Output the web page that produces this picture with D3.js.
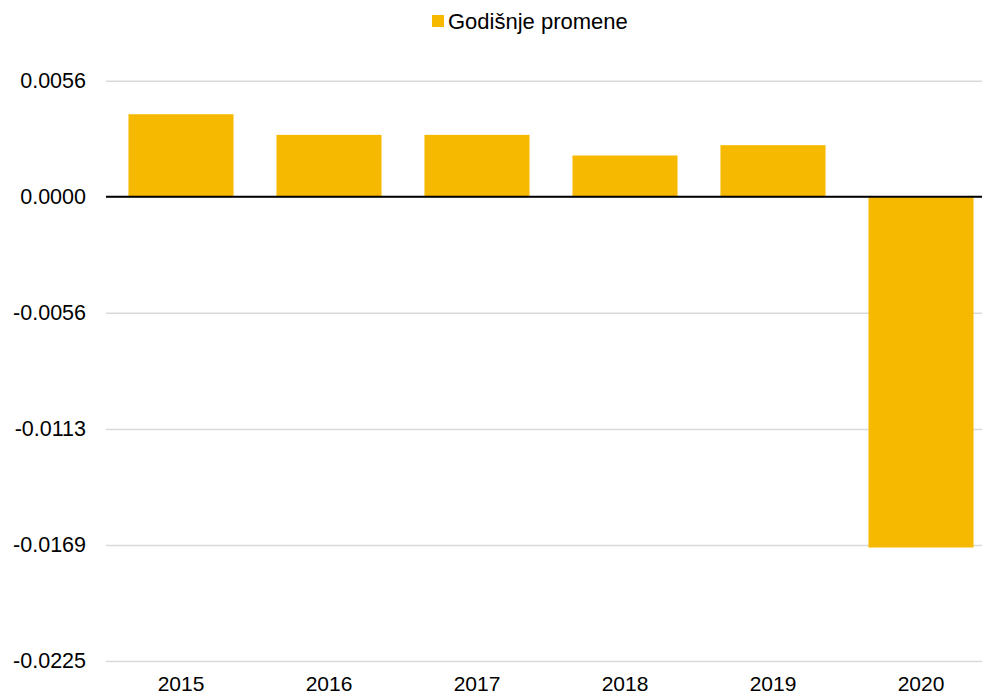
<!DOCTYPE html>
<meta charset="utf-8">
<script src="https://d3js.org/d3.v7.min.js"></script>
<style>
  body { margin: 0; font-family: "Liberation Sans", Arial, sans-serif; background: #fff; }
</style>
<div id="chart"></div>
<script>
// data
var years = ["2015", "2016", "2017", "2018", "2019", "2020"];
var changes = [0.0040, 0.0030, 0.0030, 0.0020, 0.0025, -0.0170];
var tickValues = [0.005625, 0, -0.005625, -0.01125, -0.016875, -0.0225];
var tickLabels = ["0.0056", "0.0000", "-0.0056", "-0.0113", "-0.0169", "-0.0225"];
var seriesName = "Godišnje promene";

var W = 982, H = 696;
var svg = d3.select("#chart").append("svg")
  .attr("width", W)
  .attr("height", H);

var x = d3.scaleBand()
  .domain(years)
  .range([107, 995])
  .paddingInner(0.29)
  .paddingOuter(0.145);

var y = d3.scaleLinear()
  .domain([-0.0225, 0.005625])
  .range([661, 80.7]);

// gridlines + tick labels
var yAxis = svg.append("g")
  .attr("transform", "translate(106,0)")
  .call(d3.axisLeft(y).tickValues(tickValues).tickSize(-(W - 106))
    .tickFormat(function(d, i) { return tickLabels[i]; }));
yAxis.select(".domain").remove();
yAxis.selectAll(".tick line").attr("stroke", "#d9d9d9").attr("stroke-width", 1.5);
yAxis.selectAll(".tick text")
  .attr("x", -20)
  .attr("fill", "#000")
  .style("font-size", "21.5px")
  .style("font-family", "'Liberation Sans', Arial, sans-serif");

// bars
svg.selectAll("rect.bar")
  .data(changes)
  .enter()
  .append("rect")
    .attr("class", "bar")
    .attr("x", function(d, i) { return x(years[i]); })
    .attr("width", x.bandwidth())
    .attr("y", function(d) { return y(Math.max(0, d)); })
    .attr("height", function(d) { return Math.abs(y(d) - y(0)); })
    .attr("fill", "#f7b900");

// zero line
svg.append("line")
  .attr("x1", 106).attr("x2", W)
  .attr("y1", y(0)).attr("y2", y(0))
  .attr("stroke", "#000")
  .attr("stroke-width", 2);

// category labels
var xAxis = svg.append("g")
  .attr("transform", "translate(0,661)")
  .call(d3.axisBottom(x).tickSize(0).tickPadding(15));
xAxis.select(".domain").remove();
xAxis.selectAll("text")
  .attr("fill", "#000")
  .style("font-size", "21px")
  .style("font-family", "'Liberation Sans', Arial, sans-serif");

// legend
var legend = svg.append("g").attr("transform", "translate(432,15)");
legend.append("rect")
  .attr("width", 12).attr("height", 12)
  .attr("fill", "#f7b900");
legend.append("text")
  .attr("x", 16).attr("y", 13.5)
  .style("font-size", "22px")
  .style("font-family", "'Liberation Sans', Arial, sans-serif")
  .text(seriesName);
</script>
